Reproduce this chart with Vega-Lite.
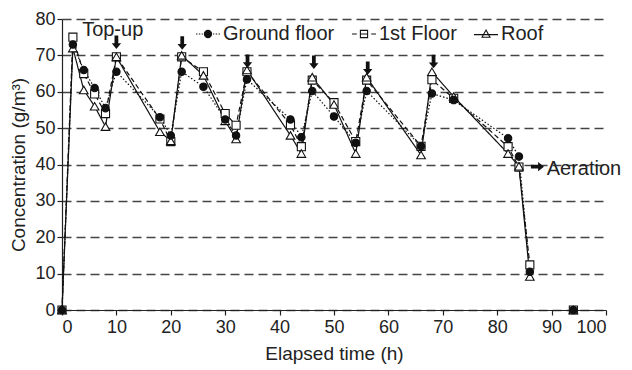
{
  "$schema": "https://vega.github.io/schema/vega-lite/v6.json",
  "width": 544,
  "height": 291,
  "autosize": {"type": "none"},
  "padding": {"left": 62, "top": 19, "right": 26, "bottom": 60},
  "background": "white",
  "config": {
    "font": "Liberation Sans",
    "view": {"stroke": null},
    "axis": {
      "labelFont": "Liberation Sans",
      "titleFont": "Liberation Sans",
      "labelFontSize": 18,
      "titleFontSize": 19,
      "labelColor": "#222",
      "titleColor": "#222",
      "titleFontWeight": "normal",
      "domainColor": "#222",
      "domainWidth": 1.2,
      "tickColor": "#222",
      "tickSize": 5,
      "tickWidth": 1.2
    }
  },
  "datasets": {
    "series": [
      {"t": 0, "s": "1st Floor", "v": 0, "seg": 1},
      {"t": 2, "s": "1st Floor", "v": 75, "seg": 1},
      {"t": 4, "s": "1st Floor", "v": 65, "seg": 1},
      {"t": 6, "s": "1st Floor", "v": 59.4, "seg": 1},
      {"t": 8, "s": "1st Floor", "v": 54, "seg": 1},
      {"t": 10, "s": "1st Floor", "v": 69.6, "seg": 1},
      {"t": 18, "s": "1st Floor", "v": 52.5, "seg": 1},
      {"t": 20, "s": "1st Floor", "v": 46.3, "seg": 1},
      {"t": 22, "s": "1st Floor", "v": 69.6, "seg": 1},
      {"t": 26, "s": "1st Floor", "v": 65.5, "seg": 1},
      {"t": 30, "s": "1st Floor", "v": 54, "seg": 1},
      {"t": 32, "s": "1st Floor", "v": 50.8, "seg": 1},
      {"t": 34, "s": "1st Floor", "v": 65.5, "seg": 1},
      {"t": 42, "s": "1st Floor", "v": 50.9, "seg": 1},
      {"t": 44, "s": "1st Floor", "v": 44.9, "seg": 1},
      {"t": 46, "s": "1st Floor", "v": 63.2, "seg": 1},
      {"t": 50, "s": "1st Floor", "v": 57, "seg": 1},
      {"t": 54, "s": "1st Floor", "v": 46.3, "seg": 1},
      {"t": 56, "s": "1st Floor", "v": 63.2, "seg": 1},
      {"t": 66, "s": "1st Floor", "v": 45, "seg": 1},
      {"t": 68, "s": "1st Floor", "v": 63.3, "seg": 1},
      {"t": 72, "s": "1st Floor", "v": 58.2, "seg": 1},
      {"t": 82, "s": "1st Floor", "v": 44.9, "seg": 1},
      {"t": 84, "s": "1st Floor", "v": 39.3, "seg": 1},
      {"t": 86, "s": "1st Floor", "v": 12.4, "seg": 1},
      {"t": 94, "s": "1st Floor", "v": 0, "seg": 2},
      {"t": 0, "s": "Roof", "v": 0, "seg": 1},
      {"t": 2, "s": "Roof", "v": 72, "seg": 1},
      {"t": 4, "s": "Roof", "v": 60.5, "seg": 1},
      {"t": 6, "s": "Roof", "v": 56, "seg": 1},
      {"t": 8, "s": "Roof", "v": 50.4, "seg": 1},
      {"t": 10, "s": "Roof", "v": 69.6, "seg": 1},
      {"t": 18, "s": "Roof", "v": 49, "seg": 1},
      {"t": 20, "s": "Roof", "v": 46.5, "seg": 1},
      {"t": 22, "s": "Roof", "v": 70, "seg": 1},
      {"t": 26, "s": "Roof", "v": 64.5, "seg": 1},
      {"t": 30, "s": "Roof", "v": 52, "seg": 1},
      {"t": 32, "s": "Roof", "v": 47, "seg": 1},
      {"t": 34, "s": "Roof", "v": 66, "seg": 1},
      {"t": 42, "s": "Roof", "v": 48, "seg": 1},
      {"t": 44, "s": "Roof", "v": 43, "seg": 1},
      {"t": 46, "s": "Roof", "v": 64, "seg": 1},
      {"t": 50, "s": "Roof", "v": 56.5, "seg": 1},
      {"t": 54, "s": "Roof", "v": 43, "seg": 1},
      {"t": 56, "s": "Roof", "v": 64, "seg": 1},
      {"t": 66, "s": "Roof", "v": 42.6, "seg": 1},
      {"t": 68, "s": "Roof", "v": 65.5, "seg": 1},
      {"t": 72, "s": "Roof", "v": 58.7, "seg": 1},
      {"t": 82, "s": "Roof", "v": 43, "seg": 1},
      {"t": 84, "s": "Roof", "v": 39.5, "seg": 1},
      {"t": 86, "s": "Roof", "v": 9.2, "seg": 1},
      {"t": 94, "s": "Roof", "v": 0, "seg": 2},
      {"t": 0, "s": "Ground floor", "v": 0, "seg": 1},
      {"t": 2, "s": "Ground floor", "v": 73, "seg": 1},
      {"t": 4, "s": "Ground floor", "v": 66, "seg": 1},
      {"t": 6, "s": "Ground floor", "v": 61, "seg": 1},
      {"t": 8, "s": "Ground floor", "v": 55.5, "seg": 1},
      {"t": 10, "s": "Ground floor", "v": 65.5, "seg": 1},
      {"t": 18, "s": "Ground floor", "v": 53, "seg": 1},
      {"t": 20, "s": "Ground floor", "v": 48, "seg": 1},
      {"t": 22, "s": "Ground floor", "v": 65.5, "seg": 1},
      {"t": 26, "s": "Ground floor", "v": 61.4, "seg": 1},
      {"t": 30, "s": "Ground floor", "v": 52.4, "seg": 1},
      {"t": 32, "s": "Ground floor", "v": 48, "seg": 1},
      {"t": 34, "s": "Ground floor", "v": 63.4, "seg": 1},
      {"t": 42, "s": "Ground floor", "v": 52.4, "seg": 1},
      {"t": 44, "s": "Ground floor", "v": 47.5, "seg": 1},
      {"t": 46, "s": "Ground floor", "v": 60.2, "seg": 1},
      {"t": 50, "s": "Ground floor", "v": 53.2, "seg": 1},
      {"t": 54, "s": "Ground floor", "v": 46, "seg": 1},
      {"t": 56, "s": "Ground floor", "v": 60.2, "seg": 1},
      {"t": 66, "s": "Ground floor", "v": 45, "seg": 1},
      {"t": 68, "s": "Ground floor", "v": 59.5, "seg": 1},
      {"t": 72, "s": "Ground floor", "v": 57.7, "seg": 1},
      {"t": 82, "s": "Ground floor", "v": 47.2, "seg": 1},
      {"t": 84, "s": "Ground floor", "v": 42.2, "seg": 1},
      {"t": 86, "s": "Ground floor", "v": 10.5, "seg": 1},
      {"t": 94, "s": "Ground floor", "v": 0, "seg": 2}
    ],
    "topup": [
      {"t": 10, "v": 73.6},
      {"t": 22.1, "v": 73.4},
      {"t": 34.1, "v": 68.4},
      {"t": 46.3, "v": 68.1},
      {"t": 56.2, "v": 66.5},
      {"t": 68.3, "v": 68.3}
    ],
    "aer": [{"t": 87.4, "v": 39.4}],
    "labels": [
      {"t": 3.7, "v": 77, "label": "Top-up"},
      {"t": 89.1, "v": 38.8, "label": "Aeration"}
    ]
  },
  "encoding": {
    "x": {
      "field": "t", "type": "quantitative",
      "scale": {"domain": [0, 100], "nice": false},
      "axis": {"values": [0,10,20,30,40,50,60,70,80,90,100], "title": "Elapsed time (h)", "grid": false, "labelPadding": 3, "titlePadding": 8}
    },
    "y": {
      "field": "v", "type": "quantitative",
      "scale": {"domain": [0, 80], "nice": false},
      "axis": {"values": [0,10,20,30,40,50,60,70,80], "title": "Concentration (g/m³)", "grid": true, "gridColor": "#444", "gridDash": [9, 5], "gridWidth": 1.4, "labelPadding": 2, "titlePadding": 6}
    }
  },
  "layer": [
    {
      "data": {"name": "series"},
      "mark": {"type": "line", "color": "#111", "strokeWidth": 1.2},
      "encoding": {
        "detail": {"field": "seg", "type": "nominal"},
        "strokeDash": {
          "field": "s", "type": "nominal",
          "scale": {"domain": ["Ground floor", "1st Floor", "Roof"], "range": [[1.5, 2], [5, 3], [1, 0]]},
          "legend": null
        }
      }
    },
    {
      "data": {"name": "series"},
      "mark": {"type": "point", "filled": true, "stroke": "#111", "strokeWidth": 1.1, "opacity": 1},
      "encoding": {
        "shape": {
          "field": "s", "type": "nominal",
          "scale": {"domain": ["Ground floor", "1st Floor", "Roof"], "range": ["circle", "square", "triangle-up"]},
          "legend": null
        },
        "fill": {
          "field": "s", "type": "nominal",
          "scale": {"domain": ["Ground floor", "1st Floor", "Roof"], "range": ["#111", "white", "white"]},
          "legend": null
        },
        "size": {
          "field": "s", "type": "nominal",
          "scale": {"domain": ["Ground floor", "1st Floor", "Roof"], "range": [55, 75, 70]},
          "legend": null
        }
      }
    },
    {
      "data": {"name": "series"},
      "mark": {"type": "point", "filled": true, "opacity": 0},
      "encoding": {
        "shape": {
          "field": "s", "type": "nominal",
          "scale": {"domain": ["Ground floor", "1st Floor", "Roof"], "range": [
            "M-1,0L-0.88,0M-0.76,0L-0.64,0M-0.52,0L-0.42,0M0.42,0L0.52,0M0.64,0L0.76,0M0.88,0L1,0M0.3,0A0.3,0.3 0 1 1 -0.3,0A0.3,0.3 0 1 1 0.3,0Z",
            "M-1,0L-0.6,0M0.6,0L1,0M-0.3,-0.3L0.3,-0.3L0.3,0.3L-0.3,0.3ZM-0.3,0L0.3,0",
            "M-1,0.05L1,0.05M0,-0.33L0.33,0.27L-0.33,0.27Z"
          ]},
          "legend": {
            "title": null, "orient": "none", "legendX": 133, "legendY": 2,
            "direction": "horizontal", "symbolSize": 576, "symbolOpacity": 1,
            "symbolStrokeWidth": 1.1,
            "labelFont": "Liberation Sans", "labelFontSize": 20, "labelColor": "#222",
            "labelOffset": 2, "columnPadding": 14, "labelLimit": 300
          }
        },
        "fill": {
          "field": "s", "type": "nominal",
          "scale": {"domain": ["Ground floor", "1st Floor", "Roof"], "range": ["#111", "white", "white"]},
          "legend": {
            "title": null, "orient": "none", "legendX": 133, "legendY": 2,
            "direction": "horizontal", "symbolSize": 576, "symbolOpacity": 1,
            "symbolStrokeWidth": 1.1,
            "labelFont": "Liberation Sans", "labelFontSize": 20, "labelColor": "#222",
            "labelOffset": 2, "columnPadding": 14, "labelLimit": 300
          }
        },
        "stroke": {
          "field": "s", "type": "nominal",
          "scale": {"domain": ["Ground floor", "1st Floor", "Roof"], "range": ["#111", "#111", "#111"]},
          "legend": {
            "title": null, "orient": "none", "legendX": 133, "legendY": 2,
            "direction": "horizontal", "symbolSize": 576, "symbolOpacity": 1,
            "symbolStrokeWidth": 1.1,
            "labelFont": "Liberation Sans", "labelFontSize": 20, "labelColor": "#222",
            "labelOffset": 2, "columnPadding": 14, "labelLimit": 300
          }
        }
      }
    },
    {
      "data": {"name": "topup"},
      "mark": {"type": "point", "filled": true, "color": "#111", "opacity": 1, "size": 180,
        "shape": "M-0.28,-1L0.28,-1L0.28,0.15L0.7,0.15L0,1L-0.7,0.15L-0.28,0.15Z"}
    },
    {
      "data": {"name": "aer"},
      "mark": {"type": "point", "filled": true, "color": "#111", "opacity": 1, "size": 170,
        "shape": "M-1,-0.28L0.1,-0.28L0.1,-0.7L1,0L0.1,0.7L0.1,0.28L-1,0.28Z"}
    },
    {
      "data": {"name": "labels"},
      "mark": {"type": "text", "align": "left", "baseline": "middle", "font": "Liberation Sans", "fontSize": 20, "color": "#222"},
      "encoding": {"text": {"field": "label", "type": "nominal"}}
    }
  ],
  "resolve": {
    "scale": {"shape": "independent", "fill": "independent", "size": "independent", "stroke": "independent"},
    "legend": {"shape": "independent", "fill": "independent", "stroke": "independent"}
  }
}
